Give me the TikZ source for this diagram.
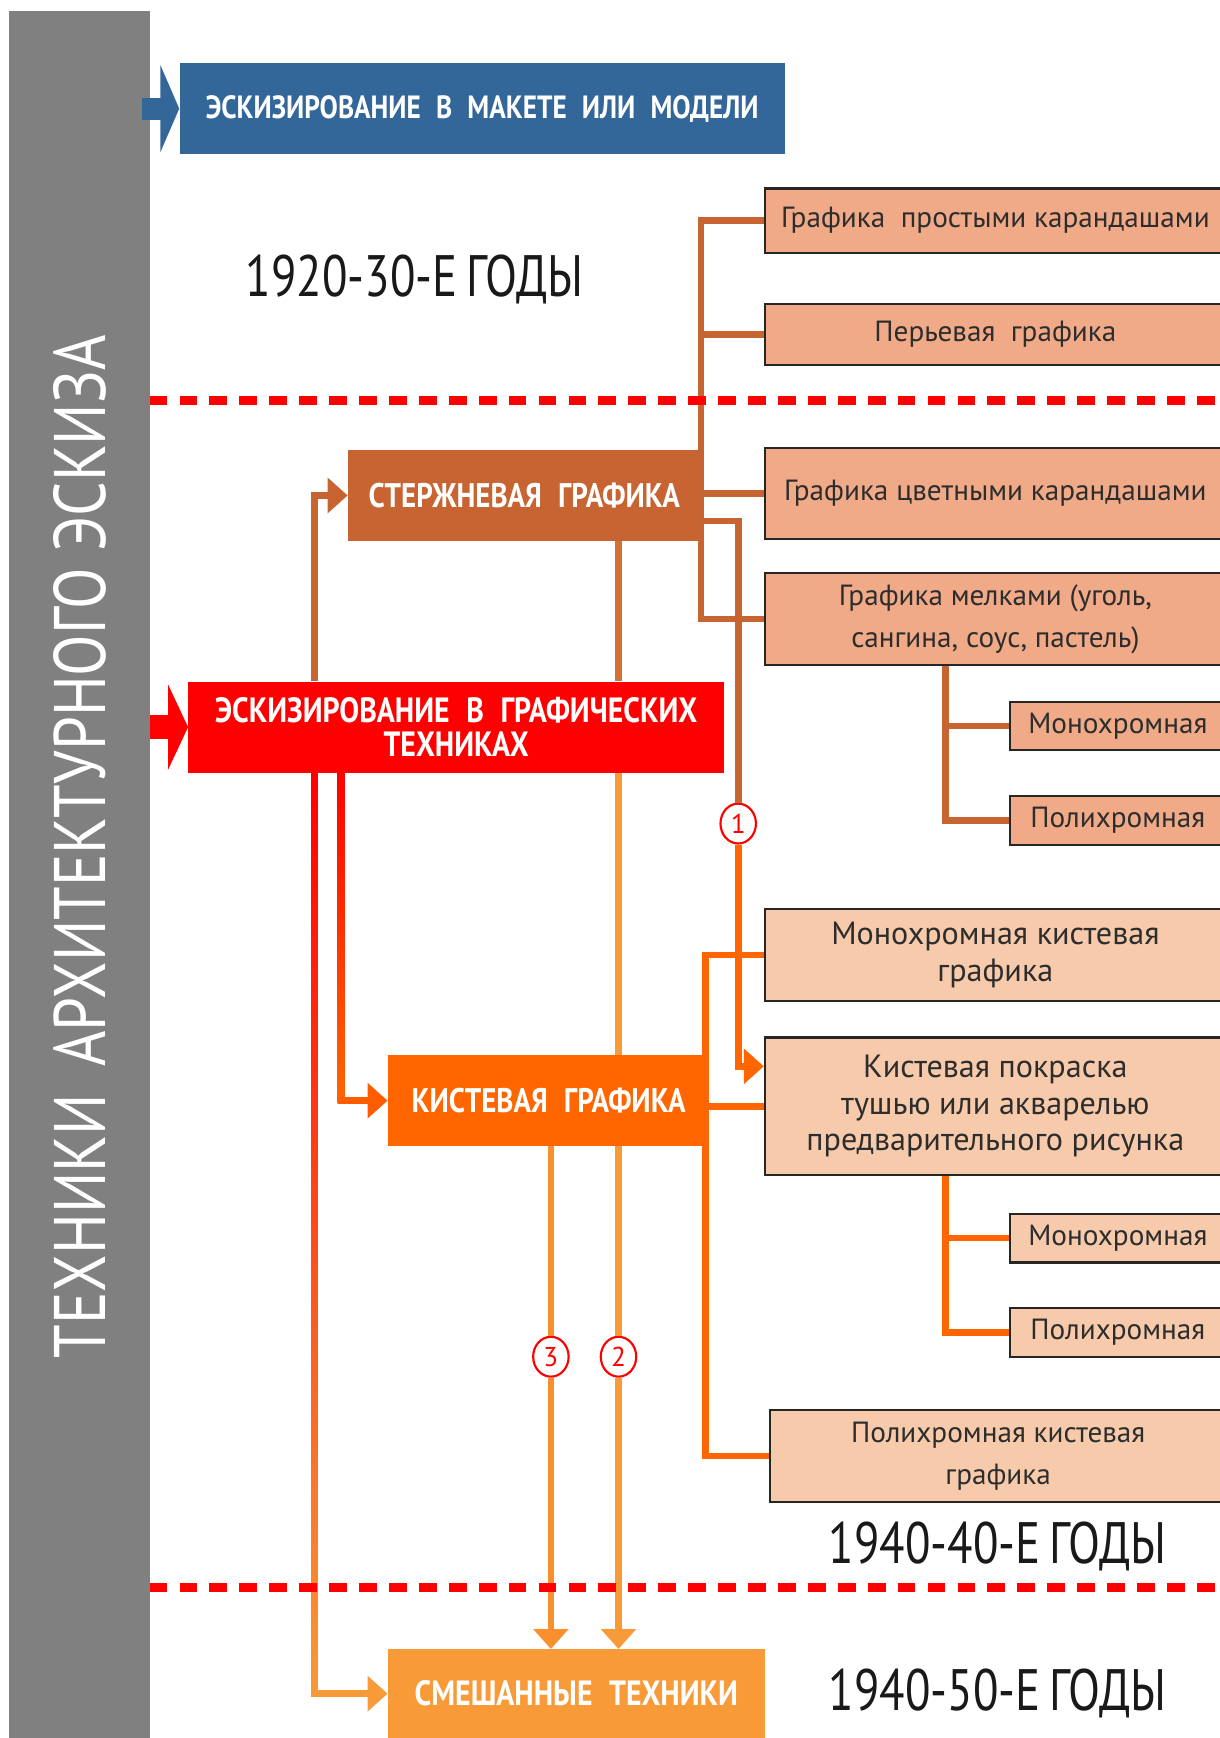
\documentclass[tikz,border=0pt]{standalone}
\usepackage{fontspec}
\setmainfont{PT Sans}
\newfontfamily\narrowfont[FakeStretch=0.83]{PT Sans}
\newfontfamily\yearfont[FakeStretch=0.8,WordSpace=0.7]{PT Sans}
\newfontfamily\capfont[FakeStretch=0.85,WordSpace=2.2]{PT Sans}
\usetikzlibrary{positioning,calc,arrows.meta,shapes.geometric}

\definecolor{barcol}{RGB}{128,128,128}
\definecolor{modelcol}{RGB}{51,102,153}
\definecolor{stemcol}{RGB}{200,100,50}
\definecolor{graphcol}{RGB}{255,0,0}
\definecolor{brushcol}{RGB}{255,102,0}
\definecolor{mixcol}{RGB}{248,154,56}
\definecolor{darkbox}{RGB}{240,170,135}
\definecolor{lightbox}{RGB}{246,202,170}
\definecolor{textcol}{RGB}{45,45,45}

\tikzset{
  headbox/.style={fill=#1, text=white, inner sep=0pt, align=center,
    font=\capfont\bfseries\fontsize{17.5}{16}\selectfont},
  subbox/.style={draw=black!85, line width=1.1pt, fill=#1, text=textcol,
    inner sep=0pt, align=center, font=\fontsize{15}{19}\selectfont},
  years/.style={font=\yearfont\fontsize{30}{30}\selectfont, text=black!90},
  conn/.style={draw=#1, line width=3.4pt},
  bigarrow/.style={-{Triangle[length=0.36cm,width=0.62cm]}},
  numcirc/.style={ellipse, draw=red, line width=1.1pt, fill=white, text=red,
    minimum width=0.64cm, minimum height=0.72cm, inner sep=0pt,
    font=\fontsize{14}{14}\selectfont},
  yeardash/.style={red, line width=4.5pt, dash pattern=on 0.32cm off 0.22cm},
}

\begin{document}
\begin{tikzpicture}[x=0.02cm, y=-0.02cm]
\useasboundingbox (0,0) rectangle (1100,1568);

% left bar
\node[fill=barcol, minimum width=2.54cm, minimum height=31.16cm, inner sep=0pt] (bar) at (71.5,789) {};
\node[rotate=90, text=white, font=\narrowfont\fontsize{37.5}{37.5}\selectfont] (title) at (72,764) {ТЕХНИКИ\hspace{6pt} АРХИТЕКТУРНОГО ЭСКИЗА};

% main techniques
\node[headbox=modelcol, minimum width=10.92cm, minimum height=1.64cm,
  font=\capfont\bfseries\fontsize{16.5}{16}\selectfont] (model) at (435,98) {ЭСКИЗИРОВАНИЕ В МАКЕТЕ ИЛИ МОДЕЛИ};
\node[headbox=stemcol, minimum width=6.36cm, minimum height=1.64cm] (stem) at (473,447) {СТЕРЖНЕВАЯ ГРАФИКА};
\node[headbox=graphcol, minimum width=9.66cm, minimum height=1.64cm,
  font=\capfont\bfseries\fontsize{18}{17.5}\selectfont] (graph) at (411.5,656) {ЭСКИЗИРОВАНИЕ В ГРАФИЧЕСКИХ\\ТЕХНИКАХ};
\node[headbox=brushcol, minimum width=5.8cm, minimum height=1.64cm] (brush) at (495,993) {КИСТЕВАЯ ГРАФИКА};
\node[headbox=mixcol, minimum width=6.8cm, minimum height=1.6cm,
  font=\capfont\bfseries\fontsize{18}{16}\selectfont] (mixed) at (520,1528) {СМЕШАННЫЕ ТЕХНИКИ};

% rod graphics
\node[subbox=darkbox, minimum width=8.32cm, minimum height=1.16cm] (pencil) at (898,199) {Графика~~простыми карандашами};
\node[subbox=darkbox, minimum width=8.32cm, minimum height=1.1cm] (pen) at (898,301.5) {Перьевая~~графика};
\node[subbox=darkbox, minimum width=8.32cm, minimum height=1.64cm] (colour) at (898,445) {Графика цветными карандашами};
\node[subbox=darkbox, minimum width=8.32cm, minimum height=1.66cm, font=\fontsize{15}{21.5}\selectfont] (chalk) at (898,558.5) {Графика мелками (уголь,\\сангина, соус, пастель)};
\node[subbox=darkbox, minimum width=3.9cm, minimum height=0.88cm] (chalkmono) at (1008.5,655) {Монохромная};
\node[subbox=darkbox, minimum width=3.9cm, minimum height=0.88cm] (chalkpoly) at (1008.5,740) {Полихромная};

% brush graphics
\node[subbox=lightbox, minimum width=8.32cm, minimum height=1.66cm, font=\fontsize{16.5}{19}\selectfont] (brushmono) at (898,861.5) {Монохромная кистевая\\графика};
\node[subbox=lightbox, minimum width=8.32cm, minimum height=2.48cm, font=\fontsize{16.5}{18.6}\selectfont] (wash) at (898,998) {Кистевая покраска\\тушью или акварелью\\предварительного рисунка};
\node[subbox=lightbox, minimum width=3.9cm, minimum height=0.88cm] (washmono) at (1008.5,1117) {Монохромная};
\node[subbox=lightbox, minimum width=3.9cm, minimum height=0.88cm] (washpoly) at (1008.5,1202) {Полихромная};
\node[subbox=lightbox, minimum width=8.22cm, minimum height=1.66cm, font=\fontsize{15}{21.5}\selectfont] (brushpoly) at (900.5,1313.5) {Полихромная кистевая\\графика};

% periods
\node[years] (y1) at (374,252) {1920-30-Е ГОДЫ};
\node[years] (y2) at (900,1395) {1940-40-Е ГОДЫ};
\node[years] (y3) at (900,1528) {1940-50-Е ГОДЫ};

\node[numcirc] (n1) at (666,743) {1};
\node[numcirc] (n2) at (558,1224) {2};
\node[numcirc] (n3) at (497,1224) {3};

\coordinate (ma) at (bar.east |- model.west);
\coordinate (gl) at ([xshift=2.28cm]graph.north west);
\coordinate (gb) at ([xshift=2.28cm]graph.south west);
\coordinate (gc) at ([xshift=2.76cm]graph.south west);
\coordinate (gm) at (gb |- mixed.west);
\coordinate (gk) at (gc |- brush.west);
\coordinate (cs) at ([xshift=-0.9cm]chalk.south);
\coordinate (ws) at ([xshift=-0.9cm]wash.south);
\coordinate (bt) at ([xshift=-0.08cm]brush.east);

% arrows out of the bar
\draw[modelcol, line width=0.4cm, -{Triangle[length=0.34cm,width=1.56cm]}] ([xshift=-0.14cm]ma) -- (model.west);
\draw[graphcol, line width=0.44cm, -{Triangle[length=0.36cm,width=1.52cm]}] (bar.east |- graph.west) -- (graph.west);

% graphic techniques
\draw[conn=stemcol, bigarrow] (gl) |- (stem.west);
\shade[top color=graphcol, middle color=brushcol, bottom color=mixcol] ([xshift=-1.7pt]gb) rectangle ([xshift=1.7pt,yshift=-1.7pt]gm);
\draw[conn=mixcol, bigarrow] ([xshift=-1.7pt]gm) -- (mixed.west);
\shade[top color=graphcol, bottom color=brushcol] ([xshift=-1.7pt]gc) rectangle ([xshift=1.7pt,yshift=-1.7pt]gk);
\draw[conn=brushcol!90!graphcol, bigarrow] ([xshift=-1.7pt]gk) -- (brush.west);

% rod graphics branches
\draw[conn=stemcol] (pencil.west) -| (stem.east |- chalk.west) -- (chalk.west);
\draw[conn=stemcol] (pen.west) -- (pen.west -| stem.east);
\draw[conn=stemcol] (colour.west) -- (colour.west -| stem.east);
\draw[conn=stemcol] (cs) |- (chalkpoly.west);
\draw[conn=stemcol] (chalkmono.west) -- (chalkmono.west -| cs);

% brush graphics branches
\draw[conn=brushcol] (brushmono.west) -| (bt |- brushpoly.west) -- (brushpoly.west);
\draw[conn=brushcol] (wash.west) -- (wash.west -| bt);
\draw[conn=brushcol] (ws) |- (washpoly.west);
\draw[conn=brushcol] (washmono.west) -- (washmono.west -| ws);

% 1
\draw[conn=stemcol] ([yshift=-0.46cm]stem.east) -| (n1);
\draw[conn=brushcol, bigarrow] (n1) |- ([yshift=0.72cm]wash.west);
% 2
\draw[conn=stemcol!75!mixcol] (n2 |- stem.south) -- (n2 |- graph.north);
\draw[conn=mixcol] (n2 |- graph.south) -- (n2 |- brush.north);
\draw[conn=mixcol] (n2 |- brush.south) -- (n2);
\draw[conn=mixcol, bigarrow] (n2) -- (n2 |- mixed.north);
% 3
\draw[conn=mixcol!80!brushcol] (n3 |- brush.south) -- (n3);
\draw[conn=mixcol!80!brushcol, bigarrow] (n3) -- (n3 |- mixed.north);

% period borders
\draw[yeardash] (135,361) -- (1100,361);
\draw[yeardash] (135,1432) -- (1100,1432);
\end{tikzpicture}
\end{document}
